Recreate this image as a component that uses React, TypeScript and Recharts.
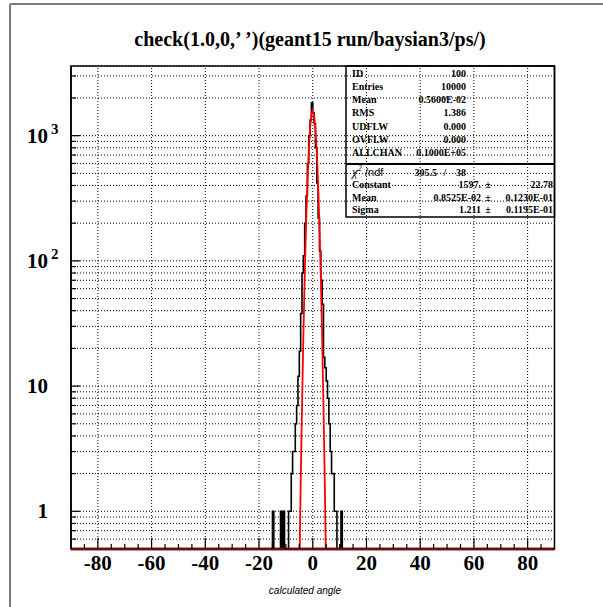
import React from 'react';
import {
    ComposedChart,
    Line,
    XAxis,
    YAxis,
    CartesianGrid,
    ReferenceLine,
    ReferenceArea,
} from 'recharts';

// histogram: 0.5 wide bins starting at -15
const binStart = -15;
const binWidth = 0.5;
const binCounts = [
    1, 0, 0, 0, 0, 0, 1, 0, 1, 0, 0, 0, 1, 1, 2, 3, 3, 5, 7, 12,
    19, 38, 80, 110, 200, 330, 600, 1000, 1330, 1830,
    1520, 1250, 800, 420, 220, 120, 70, 45, 17, 14, 11, 8, 5, 3, 2, 2,
    1, 1, 0, 0, 0, 1, 0, 0,
];

// gaussian fit curve (Constant 1597, Sigma 1.211)
const fitX = [-6, -5.5, -5, -4.5, -4, -3.5, -3, -2.5, -2, -1.5, -1, -0.5, 0, 0.5, 1, 1.5, 2, 2.5, 3, 3.5, 4, 4.5, 5, 5.5, 6];
const fitY = [0.0066, 0.053, 0.317, 1.6, 6.82, 24.5, 74.3, 190, 408, 742, 1135, 1467, 1597, 1467, 1135, 742, 408, 190, 74.3, 24.5, 6.82, 1.6, 0.317, 0.053, 0.0066];

const xMajorTicks = [-80, -60, -40, -20, 0, 20, 40, 60, 80];
const xMinorTicks = [-85, -75, -70, -65, -55, -50, -45, -35, -30, -25, -15, -10, -5, 5, 10, 15, 25, 30, 35, 45, 50, 55, 65, 70, 75, 85];
const yMajorTicks = [1, 10, 100, 1000];
const yAllTicks = [
    0.6, 0.7, 0.8, 0.9,
    1, 2, 3, 4, 5, 6, 7, 8, 9,
    10, 20, 30, 40, 50, 60, 70, 80, 90,
    100, 200, 300, 400, 500, 600, 700, 800, 900,
    1000, 2000, 3000,
];

const statsRows = [
    ['ID', '100'],
    ['Entries', '10000'],
    ['Mean', '0.5600E-02'],
    ['RMS', '1.386'],
    ['UDFLW', '0.000'],
    ['OVFLW', '0.000'],
    ['ALLCHAN', '0.1000E+05'],
];
const fitRows = [
    ['Constant', '1597.', '22.78'],
    ['Mean', '0.8525E-02', '0.1230E-01'],
    ['Sigma', '1.211', '0.1195E-01'],
];

const FLOOR = 0.01; // empty bins go below the axis and get clipped
const serif = '"Liberation Serif", "Times New Roman", serif';
const sans = '"Liberation Sans", Arial, sans-serif';

const histData = [{ x: binStart, y: FLOOR }]
    .concat(binCounts.map((c, i) => ({ x: binStart + i * binWidth, y: c > 0 ? c : FLOOR })))
    .concat([{ x: binStart + binCounts.length * binWidth, y: FLOOR }]);
const fitData = fitX.map((x, i) => ({ x, y: fitY[i] }));
const xTicks = [...xMajorTicks, ...xMinorTicks].sort((a, b) => a - b);

const XTick = (props: any) => {
    const { x, y, payload } = props;
    const major = xMajorTicks.includes(payload.value);
    return (
        <g>
            <line x1={x} x2={x} y1={y} y2={y - (major ? 11 : 5)} stroke="#000" strokeWidth={1.2} />
            {major && (
                <text x={x} y={y + 21} textAnchor="middle" fontFamily={serif} fontWeight="bold" fontSize={21} fill="#000">
                    {payload.value}
                </text>
            )}
        </g>
    );
};

const YTick = (props: any) => {
    const { x, y, payload } = props;
    const v = payload.value;
    const major = yMajorTicks.includes(v);
    let label: React.ReactNode = null;
    if (v === 1 || v === 10) {
        label = (
            <text x={x - 23} y={y + 7} textAnchor="end" fontFamily={serif} fontWeight="bold" fontSize={21} fill="#000">
                {v}
            </text>
        );
    } else if (v === 100 || v === 1000) {
        label = (
            <text x={x - 44} y={y + 7} fontFamily={serif} fontWeight="bold" fontSize={21} fill="#000">
                10<tspan dx={3} dy={-9} fontSize={15}>{v === 100 ? '2' : '3'}</tspan>
            </text>
        );
    }
    return (
        <g>
            <line x1={x} x2={x + (major ? 9 : 5)} y1={y} y2={y} stroke="#000" strokeWidth={1.2} />
            {label}
        </g>
    );
};

export default function App() {
    const boxL = 346;
    const boxR = 554.5;
    const rowY = [76.5, 89.8, 103.1, 116.4, 129.7, 143, 156.3];
    const fitRowY = [188, 200.5, 212.5];
    return (
        <div style={{ position: 'absolute', left: 0, top: 0, width: 603, height: 607, background: '#fff' }}>
            <ComposedChart width={603} height={607} margin={{ top: 66, right: 48.5, bottom: 0, left: 0 }}>
                <CartesianGrid vertical={false} stroke="#000" strokeDasharray="1 2" strokeWidth={1} />
                {xMajorTicks.map((t) => (
                    <ReferenceLine key={t} x={t} stroke="#000" strokeDasharray="1 2" strokeWidth={1} />
                ))}
                <XAxis
                    dataKey="x"
                    type="number"
                    domain={[-90, 90]}
                    allowDataOverflow
                    ticks={xTicks}
                    interval={0}
                    height={58}
                    tickSize={0}
                    tickMargin={0}
                    tick={<XTick />}
                    axisLine={{ stroke: '#6e0b0b', strokeWidth: 2.5 }}
                />
                <YAxis
                    type="number"
                    scale="log"
                    domain={[0.5, 3600]}
                    allowDataOverflow
                    ticks={yAllTicks}
                    interval={0}
                    width={71}
                    tickSize={0}
                    tickMargin={0}
                    tick={<YTick />}
                    axisLine={{ stroke: '#000', strokeWidth: 1.5 }}
                />
                <Line
                    data={histData}
                    dataKey="y"
                    type="stepAfter"
                    stroke="#000"
                    strokeWidth={1.6}
                    dot={false}
                    activeDot={false}
                    isAnimationActive={false}
                />
                <Line
                    data={fitData}
                    dataKey="y"
                    type="linear"
                    stroke="#ff0000"
                    strokeWidth={1.8}
                    dot={false}
                    activeDot={false}
                    isAnimationActive={false}
                />
                <ReferenceArea x1={-90} x2={90} y1={0.5} y2={3600} fill="none" fillOpacity={0} stroke="#000" strokeWidth={1.5} />
                <ReferenceLine y={0.5} stroke="#6e0b0b" strokeWidth={2.5} />
            </ComposedChart>
            <svg width={603} height={607} style={{ position: 'absolute', left: 0, top: 0, pointerEvents: 'none' }}>
                <line x1={10} y1={4} x2={603} y2={4} stroke="#7a7a7a" strokeWidth={2} />
                <line x1={10} y1={4} x2={10} y2={607} stroke="#7a7a7a" strokeWidth={2} />
                <text x={310} y={46} textAnchor="middle" fontFamily={serif} fontWeight="bold" fontSize={20} fill="#000">
                    check(1.0,0,’ ’)(geant15 run/baysian3/ps/)
                </text>
                <text x={305} y={594} textAnchor="middle" fontFamily={sans} fontStyle="italic" fontSize={10} fill="#000">
                    calculated angle
                </text>
                <rect x={boxL} y={66} width={boxR - boxL} height={217 - 66} fill="none" stroke="#000" strokeWidth={1.5} />
                <line x1={boxL} x2={boxR} y1={164} y2={164} stroke="#000" strokeWidth={2} />
                {statsRows.map((r, i) => (
                    <g key={r[0]} fontFamily={serif} fontWeight="bold" fontSize={10} fill="#000">
                        <text x={352} y={rowY[i]}>{r[0]}</text>
                        <text x={466} y={rowY[i]} textAnchor="end">{r[1]}</text>
                    </g>
                ))}
                <g fill="#000">
                    <text x={352} y={176} fontFamily={serif} fontStyle="italic" fontSize={13}>
                        χ<tspan dy={-5} fontSize={8}>2</tspan>
                    </text>
                    <text x={365} y={176} fontFamily={sans} fontSize={11}>/ndf</text>
                    <text x={437} y={176} textAnchor="end" fontFamily={serif} fontWeight="bold" fontSize={10}>305.5</text>
                    <text x={445} y={176} textAnchor="middle" fontFamily={serif} fontWeight="bold" fontSize={10}>/</text>
                    <text x={466} y={176} textAnchor="end" fontFamily={serif} fontWeight="bold" fontSize={10}>38</text>
                </g>
                {fitRows.map((r, i) => (
                    <g key={r[0]} fontFamily={serif} fontWeight="bold" fontSize={10} fill="#000">
                        <text x={352} y={fitRowY[i]}>{r[0]}</text>
                        <text x={481} y={fitRowY[i]} textAnchor="end">{r[1]}</text>
                        <text x={488} y={fitRowY[i]} textAnchor="middle">±</text>
                        <text x={553} y={fitRowY[i]} textAnchor="end">{r[2]}</text>
                    </g>
                ))}
            </svg>
        </div>
    );
}
